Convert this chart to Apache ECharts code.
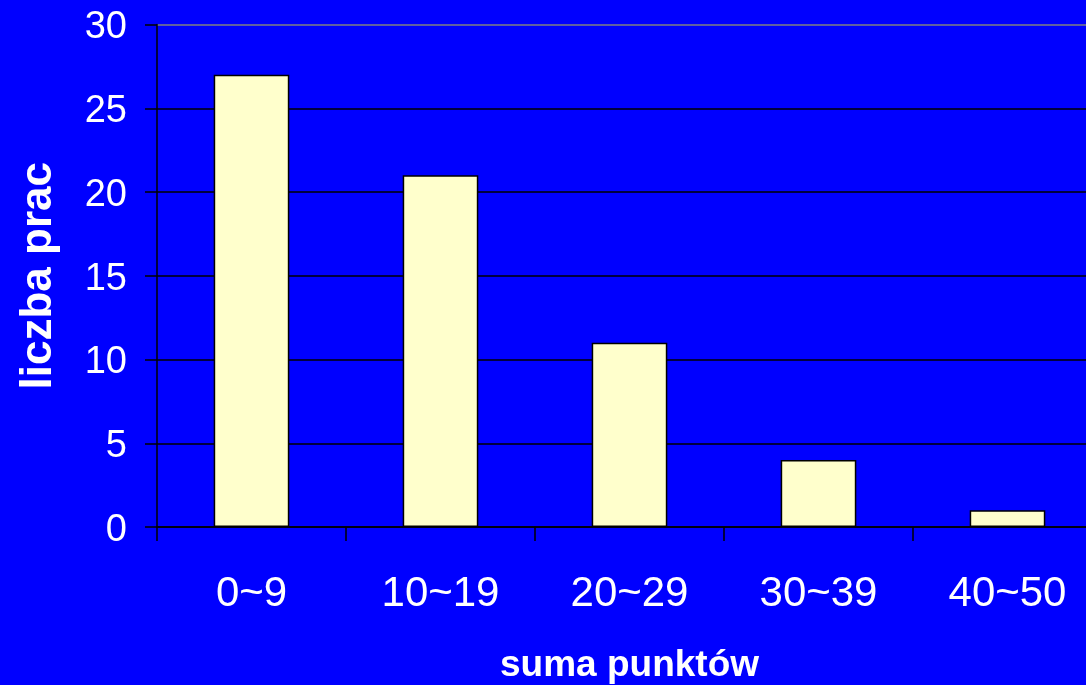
<!DOCTYPE html>
<html>
<head>
<meta charset="utf-8">
<script src="https://cdn.jsdelivr.net/npm/echarts@6/dist/echarts.min.js"></script>
<style>
html,body{margin:0;padding:0;background:#0000FF;}
#chart{width:1086px;height:685px;}
</style>
</head>
<body>
<div id="chart"></div>
<script>
const categories = ['0~9', '10~19', '20~29', '30~39', '40~50'];
const counts = [27, 21, 11, 4, 1];
const yTicks = [0, 5, 10, 15, 20, 25, 30];
const xTitle = 'suma punktów';
const yTitle = 'liczba prac';

const chart = echarts.init(document.getElementById('chart'));
chart.setOption({
  backgroundColor: '#0000FF',
  animation: false,
  grid: { left: 157, top: 24.5, right: -16, bottom: 158, containLabel: false, outerBoundsMode: 'none' },
  xAxis: {
    type: 'category',
    data: categories,
    name: xTitle,
    nameLocation: 'middle',
    nameGap: 120,
    nameTextStyle: { color: '#fff', fontFamily: 'Liberation Sans, Arial', fontWeight: 'bold', fontSize: 37 },
    axisLine: { show: true, lineStyle: { color: '#000', width: 1.5 } },
    axisTick: { show: true, length: 14, alignWithLabel: false, lineStyle: { color: '#000', width: 1.5 } },
    axisLabel: { color: '#fff', fontFamily: 'Liberation Sans, Arial', fontSize: 42, margin: 46 },
    splitLine: { show: false }
  },
  yAxis: {
    type: 'value',
    min: yTicks[0],
    max: yTicks[yTicks.length - 1],
    interval: yTicks[1] - yTicks[0],
    name: yTitle,
    nameLocation: 'middle',
    nameGap: 96,
    nameRotate: 90,
    nameTextStyle: { color: '#fff', fontFamily: 'Liberation Sans, Arial', fontWeight: 'bold', fontSize: 44 },
    axisLine: { show: true, lineStyle: { color: '#000', width: 1.5 } },
    axisTick: { show: true, length: 12, lineStyle: { color: '#000', width: 1.5 } },
    axisLabel: {
      color: '#fff', fontFamily: 'Liberation Sans, Arial', fontSize: 38, margin: 30,
      formatter: '{v|{value}}',
      rich: { v: { color: '#fff', fontFamily: 'Liberation Sans, Arial', fontSize: 38, padding: [7, 0, 0, 0] } }
    },
    splitLine: { show: true, lineStyle: { color: ['#000', '#000', '#000', '#000', '#000', '#000', '#808080'], width: 1.5 } }
  },
  series: [{
    type: 'bar',
    data: counts,
    barWidth: '40%',
    itemStyle: { color: '#FFFFCC', borderColor: '#000', borderWidth: 1.5 }
  }]
});
</script>
</body>
</html>
